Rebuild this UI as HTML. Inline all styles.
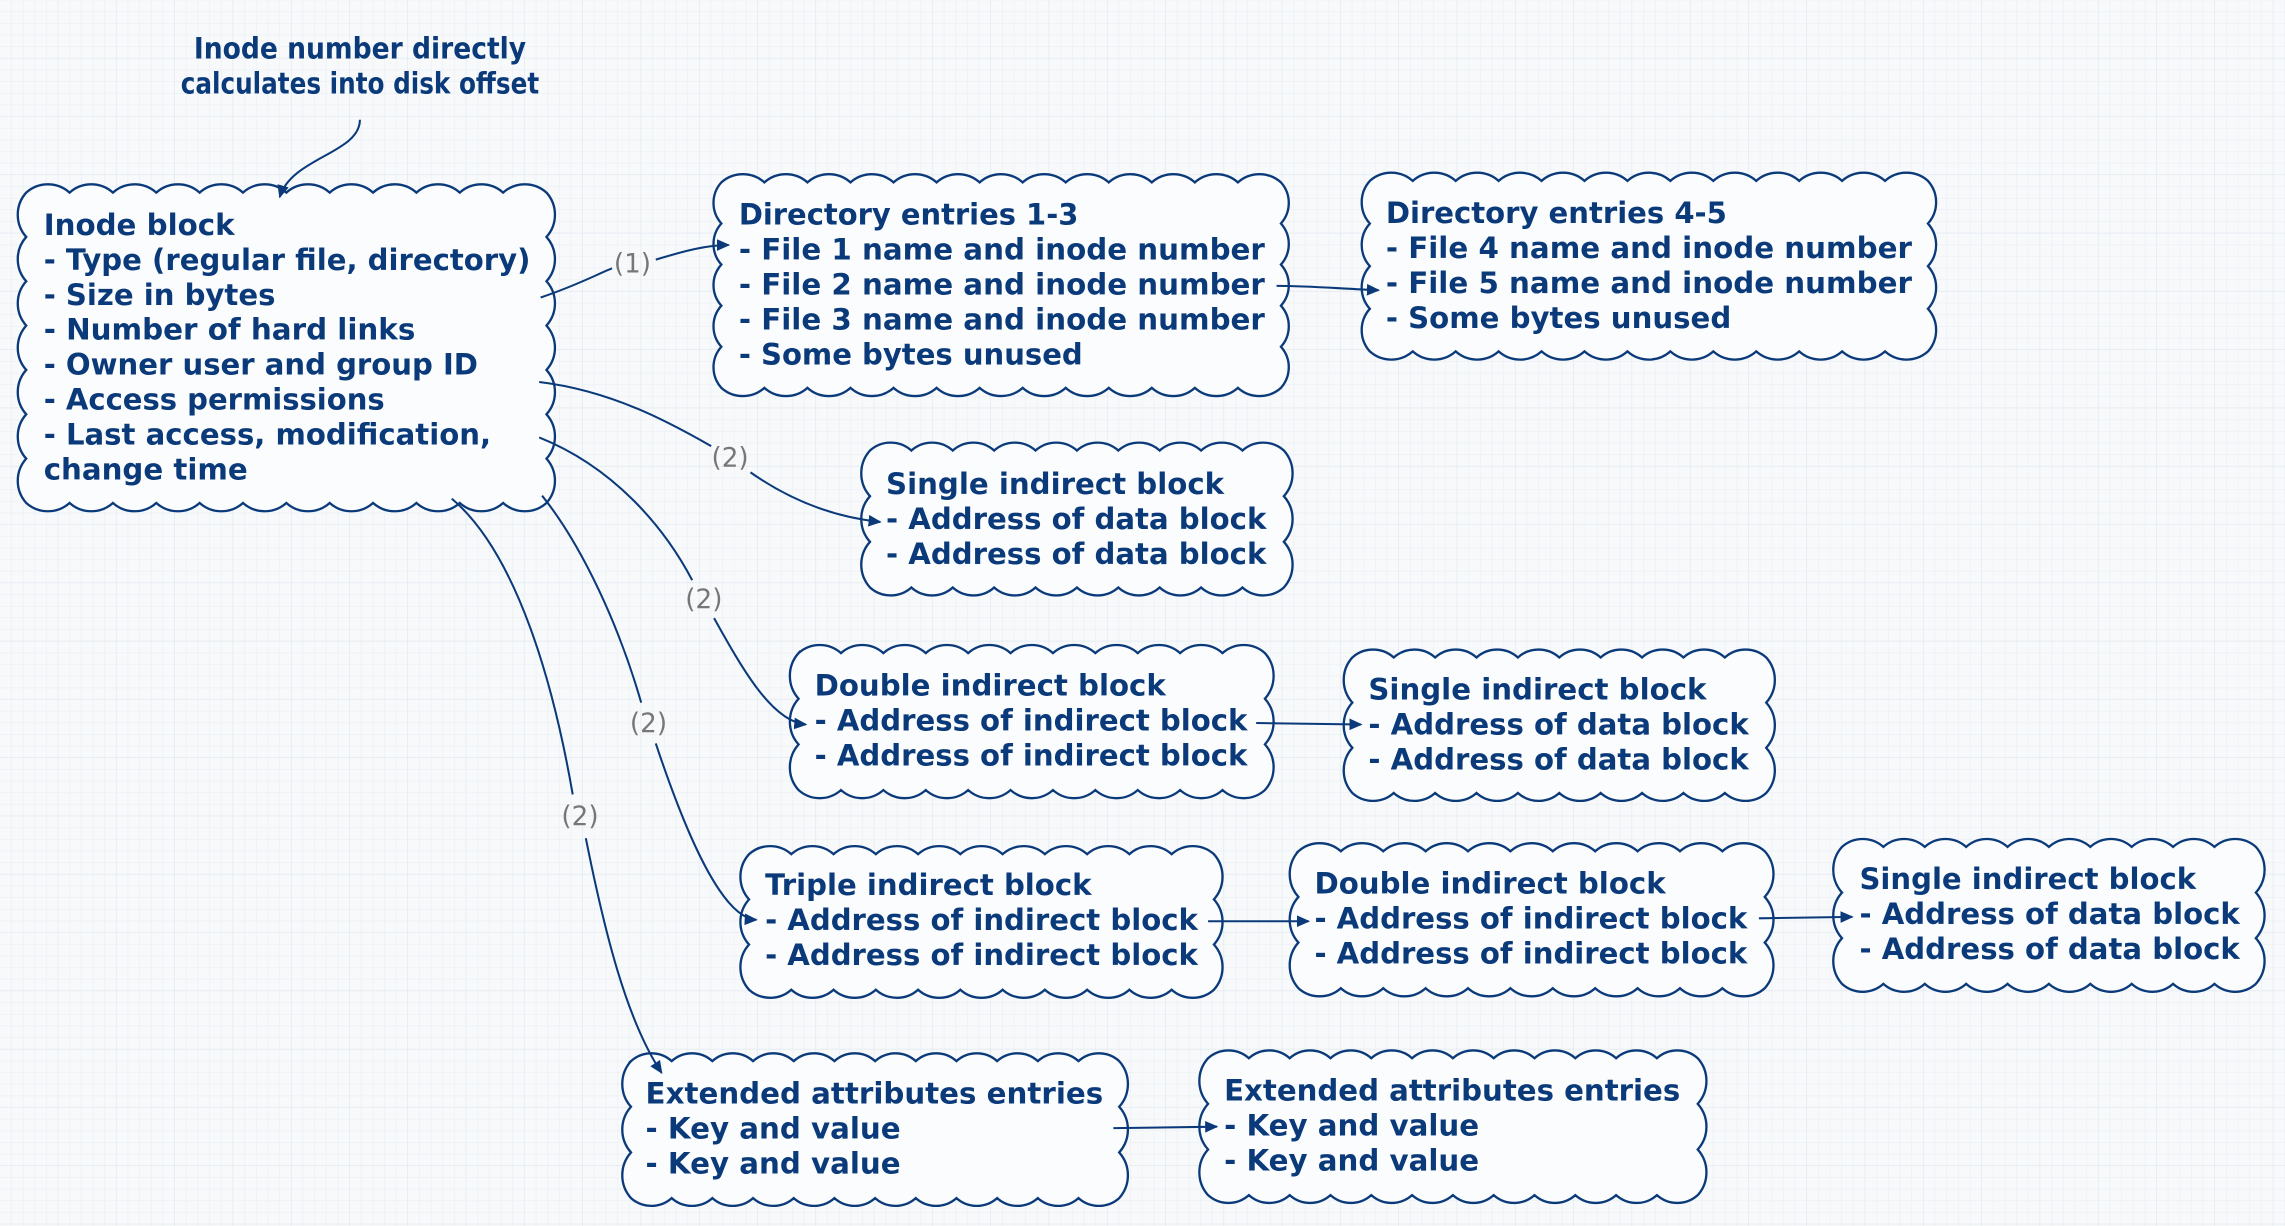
<!DOCTYPE html>
<html><head><meta charset="utf-8"><style>
html,body{margin:0;padding:0;background:#f7f9fb;}
svg{display:block;}
.t{font-family:"DejaVu Sans","Liberation Sans",sans-serif;font-weight:bold;font-size:20px;fill:#0b3a7a;}
.lbl{font-family:"DejaVu Sans","Liberation Sans",sans-serif;font-size:18px;fill:#777;}
.c{fill:none;stroke:#0b3a7a;stroke-width:1.4;}
.cl{fill:#fbfcfd;stroke:#0b3a7a;stroke-width:1.6;}
</style></head><body>
<svg id="s" width="2285" height="1226" viewBox="0 0 1568 841" xmlns="http://www.w3.org/2000/svg">
<defs>
<pattern id="g" width="8" height="8" patternUnits="userSpaceOnUse"><path d="M8 0V8H0" fill="none" stroke="#e6edf3" stroke-width="0.6"/></pattern>
<pattern id="G" width="40" height="40" patternUnits="userSpaceOnUse"><rect width="40" height="40" fill="url(#g)"/><path d="M40 0V40H0" fill="none" stroke="#dde6ee" stroke-width="0.8"/></pattern>
<marker id="a" markerWidth="10" markerHeight="10" refX="8" refY="4" orient="auto" markerUnits="userSpaceOnUse"><path d="M0,0 L9,4 L0,8 Z" fill="#0b3a7a"/></marker>
</defs>
<rect width="1568" height="841" fill="#f7f9fb"/>
<rect width="1568" height="841" fill="url(#G)"/>
<g id="clouds">
<rect class="cl" x="13" y="127" width="367" height="223" rx="18" data-c="1"/>
<rect class="cl" x="490" y="120" width="394" height="151" rx="18" data-c="1"/>
<rect class="cl" x="935" y="119" width="393" height="127" rx="18" data-c="1"/>
<rect class="cl" x="592" y="304" width="294" height="104" rx="18" data-c="1"/>
<rect class="cl" x="543" y="443" width="330" height="104" rx="18" data-c="1"/>
<rect class="cl" x="923" y="446" width="294" height="103" rx="18" data-c="1"/>
<rect class="cl" x="509" y="581" width="329" height="103" rx="18" data-c="1"/>
<rect class="cl" x="886" y="579" width="330" height="104" rx="18" data-c="1"/>
<rect class="cl" x="1259" y="576" width="294" height="104" rx="18" data-c="1"/>
<rect class="cl" x="428" y="723" width="345" height="104" rx="18" data-c="1"/>
<rect class="cl" x="824" y="721" width="346" height="104" rx="18" data-c="1"/>
</g>

<text class="t" x="247" y="40" text-anchor="middle" font-size="18" textLength="228" lengthAdjust="spacingAndGlyphs">Inode number directly</text>
<text class="t" x="247" y="64" text-anchor="middle" font-size="18" textLength="246" lengthAdjust="spacingAndGlyphs">calculates into disk offset</text>
<path class="c" d="M247 82 C247 105 200 108 192 135" marker-end="url(#a)"/>

<path class="c" d="M371 204 C395 196 410 188 420 184 M450 178 C470 172 485 168 500 168" marker-end="url(#a)"/>
<text class="lbl" x="434" y="187" text-anchor="middle">(1)</text>
<path class="c" d="M370 262 C420 268 460 290 488 306 M515 324 C545 345 575 355 604 358" marker-end="url(#a)"/>
<text class="lbl" x="501" y="320" text-anchor="middle">(2)</text>
<path class="c" d="M370 300 C420 320 455 360 475 398 M490 424 C510 460 530 495 553 497" marker-end="url(#a)"/>
<text class="lbl" x="483" y="417" text-anchor="middle">(2)</text>
<path class="c" d="M372 340 C400 375 425 430 440 482 M450 510 C470 570 495 630 519 631" marker-end="url(#a)"/>
<text class="lbl" x="445" y="502" text-anchor="middle">(2)</text>
<path class="c" d="M310 342 C355 380 380 470 393 545 M402 575 C415 640 430 700 454 736" marker-end="url(#a)"/>
<text class="lbl" x="398" y="566" text-anchor="middle">(2)</text>
<path class="c" d="M876 196 C900 196 920 198 946 199" marker-end="url(#a)"/>
<path class="c" d="M862 496 L934 497" marker-end="url(#a)"/>
<path class="c" d="M829 632 L898 632" marker-end="url(#a)"/>
<path class="c" d="M1207 630 L1271 629" marker-end="url(#a)"/>
<path class="c" d="M764 774 L835 773" marker-end="url(#a)"/>

<g class="t">
<text x="30" y="161" textLength="131" lengthAdjust="spacingAndGlyphs">Inode block</text>
<text x="30" y="185" textLength="334" lengthAdjust="spacingAndGlyphs">- Type (regular file, directory)</text>
<text x="30" y="209" textLength="159" lengthAdjust="spacingAndGlyphs">- Size in bytes</text>
<text x="30" y="233" textLength="255" lengthAdjust="spacingAndGlyphs">- Number of hard links</text>
<text x="30" y="257" textLength="298" lengthAdjust="spacingAndGlyphs">- Owner user and group ID</text>
<text x="30" y="281" textLength="234" lengthAdjust="spacingAndGlyphs">- Access permissions</text>
<text x="30" y="305" textLength="307" lengthAdjust="spacingAndGlyphs">- Last access, modification,</text>
<text x="30" y="329" textLength="140" lengthAdjust="spacingAndGlyphs">change time</text>

<text x="507" y="154" textLength="233" lengthAdjust="spacingAndGlyphs">Directory entries 1-3</text>
<text x="507" y="178" textLength="361" lengthAdjust="spacingAndGlyphs">- File 1 name and inode number</text>
<text x="507" y="202" textLength="361" lengthAdjust="spacingAndGlyphs">- File 2 name and inode number</text>
<text x="507" y="226" textLength="361" lengthAdjust="spacingAndGlyphs">- File 3 name and inode number</text>
<text x="507" y="250" textLength="236" lengthAdjust="spacingAndGlyphs">- Some bytes unused</text>

<text x="951" y="153" textLength="234" lengthAdjust="spacingAndGlyphs">Directory entries 4-5</text>
<text x="951" y="177" textLength="361" lengthAdjust="spacingAndGlyphs">- File 4 name and inode number</text>
<text x="951" y="201" textLength="361" lengthAdjust="spacingAndGlyphs">- File 5 name and inode number</text>
<text x="951" y="225" textLength="237" lengthAdjust="spacingAndGlyphs">- Some bytes unused</text>

<text x="608" y="339" textLength="232" lengthAdjust="spacingAndGlyphs">Single indirect block</text>
<text x="608" y="363" textLength="261" lengthAdjust="spacingAndGlyphs">- Address of data block</text>
<text x="608" y="387" textLength="261" lengthAdjust="spacingAndGlyphs">- Address of data block</text>

<text x="559" y="477" textLength="241" lengthAdjust="spacingAndGlyphs">Double indirect block</text>
<text x="559" y="501" textLength="297" lengthAdjust="spacingAndGlyphs">- Address of indirect block</text>
<text x="559" y="525" textLength="297" lengthAdjust="spacingAndGlyphs">- Address of indirect block</text>

<text x="939" y="480" textLength="232" lengthAdjust="spacingAndGlyphs">Single indirect block</text>
<text x="939" y="504" textLength="261" lengthAdjust="spacingAndGlyphs">- Address of data block</text>
<text x="939" y="528" textLength="261" lengthAdjust="spacingAndGlyphs">- Address of data block</text>

<text x="525" y="614" textLength="224" lengthAdjust="spacingAndGlyphs">Triple indirect block</text>
<text x="525" y="638" textLength="297" lengthAdjust="spacingAndGlyphs">- Address of indirect block</text>
<text x="525" y="662" textLength="297" lengthAdjust="spacingAndGlyphs">- Address of indirect block</text>

<text x="902" y="613" textLength="241" lengthAdjust="spacingAndGlyphs">Double indirect block</text>
<text x="902" y="637" textLength="297" lengthAdjust="spacingAndGlyphs">- Address of indirect block</text>
<text x="902" y="661" textLength="297" lengthAdjust="spacingAndGlyphs">- Address of indirect block</text>

<text x="1276" y="610" textLength="231" lengthAdjust="spacingAndGlyphs">Single indirect block</text>
<text x="1276" y="634" textLength="261" lengthAdjust="spacingAndGlyphs">- Address of data block</text>
<text x="1276" y="658" textLength="261" lengthAdjust="spacingAndGlyphs">- Address of data block</text>

<text x="443" y="757" textLength="314" lengthAdjust="spacingAndGlyphs">Extended attributes entries</text>
<text x="443" y="781" textLength="175" lengthAdjust="spacingAndGlyphs">- Key and value</text>
<text x="443" y="805" textLength="175" lengthAdjust="spacingAndGlyphs">- Key and value</text>

<text x="840" y="755" textLength="313" lengthAdjust="spacingAndGlyphs">Extended attributes entries</text>
<text x="840" y="779" textLength="175" lengthAdjust="spacingAndGlyphs">- Key and value</text>
<text x="840" y="803" textLength="175" lengthAdjust="spacingAndGlyphs">- Key and value</text>
</g>
</svg>
<script>
(function(){
var rs=document.querySelectorAll('rect[data-c]');
var ns='http://www.w3.org/2000/svg';
function edge(len,dx,dy){var n=Math.max(2,Math.round(len/29));var s=len/n;var R=s*0.75;var out='';for(var k=0;k!==n;k++){out+=' a'+R+' '+R+' 0 0 1 '+(dx*s)+' '+(dy*s);}return out;}
for(var i=0;i!==rs.length;i++){
 var r=rs[i];var x=+r.getAttribute('x')+5,y=+r.getAttribute('y')+5,w=+r.getAttribute('width')-10,h=+r.getAttribute('height')-10;
 var d='M'+x+' '+y+edge(w,1,0)+edge(h,0,1)+edge(w,-1,0)+edge(h,0,-1)+'Z';
 var p=document.createElementNS(ns,'path');p.setAttribute('d',d);p.setAttribute('class','cl');
 r.parentNode.replaceChild(p,r);
}
})();
</script>
</body></html>
